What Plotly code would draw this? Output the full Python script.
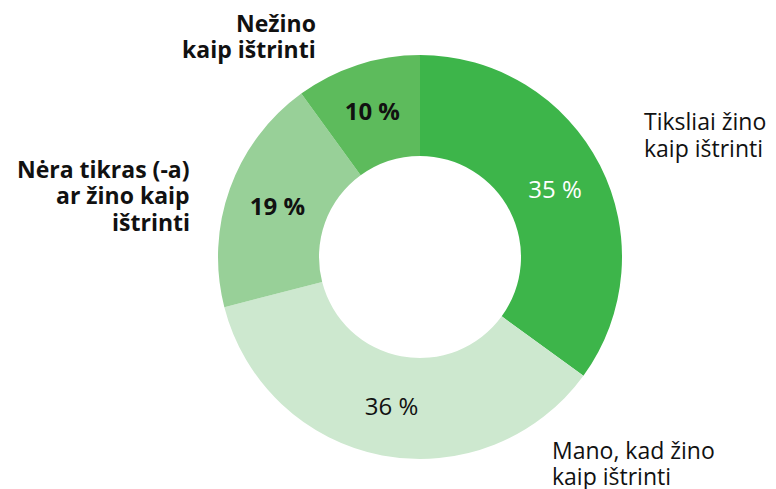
import plotly.graph_objects as go

labels = ["Tiksliai žino<br>kaip ištrinti", "Mano, kad žino<br>kaip ištrinti",
          "Nėra tikras (-a)<br>ar žino kaip<br>ištrinti", "Nežino<br>kaip ištrinti"]
values = [35, 36, 19, 10]
colors = ["#3db54a", "#cde8cf", "#98d098", "#5dbb5c"]
bold = [False, False, True, True]
text_colors = ["white", "#111111", "#111111", "#111111"]

W, H = 776, 489
FONT = "Open Sans"
FS = 23
FS_IN = 24

texts = [(f"<b>{v} %</b>" if b else f"{v} %") for v, b in zip(values, bold)]

fig = go.Figure(go.Pie(
    values=values,
    labels=labels,
    text=texts,
    textinfo="text",
    textposition="inside",
    insidetextorientation="horizontal",
    insidetextfont=dict(family=FONT, size=FS_IN, color=text_colors),
    marker=dict(colors=colors, line=dict(width=0)),
    hole=0.5,
    sort=False,
    direction="clockwise",
    rotation=0,
    showlegend=False,
    domain=dict(x=[(420 - 202) / W, (420 + 202) / W],
                y=[(H - 257 - 202) / H, (H - 257 + 202) / H]),
))

# outer label anchor: x edge (px), first-line baseline (px), line step, alignment
ann_pos = [(642, 129, 27, "left", False), (550, 458, 26, "left", False),
           (192, 177, 26.5, "right", True), (318, 31, 26, "right", True)]
annotations = []
for lab, (px, by, step, al, b) in zip(labels, ann_pos):
    for i, line in enumerate(lab.split("<br>")):
        cy = by + i * step - 0.36 * FS
        annotations.append(dict(
            x=px / W, y=1 - cy / H, xref="paper", yref="paper",
            text=(f"<b>{line}</b>" if b else line), showarrow=False,
            xanchor=al, yanchor="middle", align=al,
            font=dict(family=FONT, size=FS, color="#111111"),
        ))

fig.update_layout(
    width=W, height=H,
    margin=dict(l=0, r=0, t=0, b=0),
    paper_bgcolor="white", plot_bgcolor="white",
    annotations=annotations,
)

fig.write_html("out.html", config={"displayModeBar": False},
               post_script="document.body.style.margin='0';document.body.style.overflow='hidden';")
